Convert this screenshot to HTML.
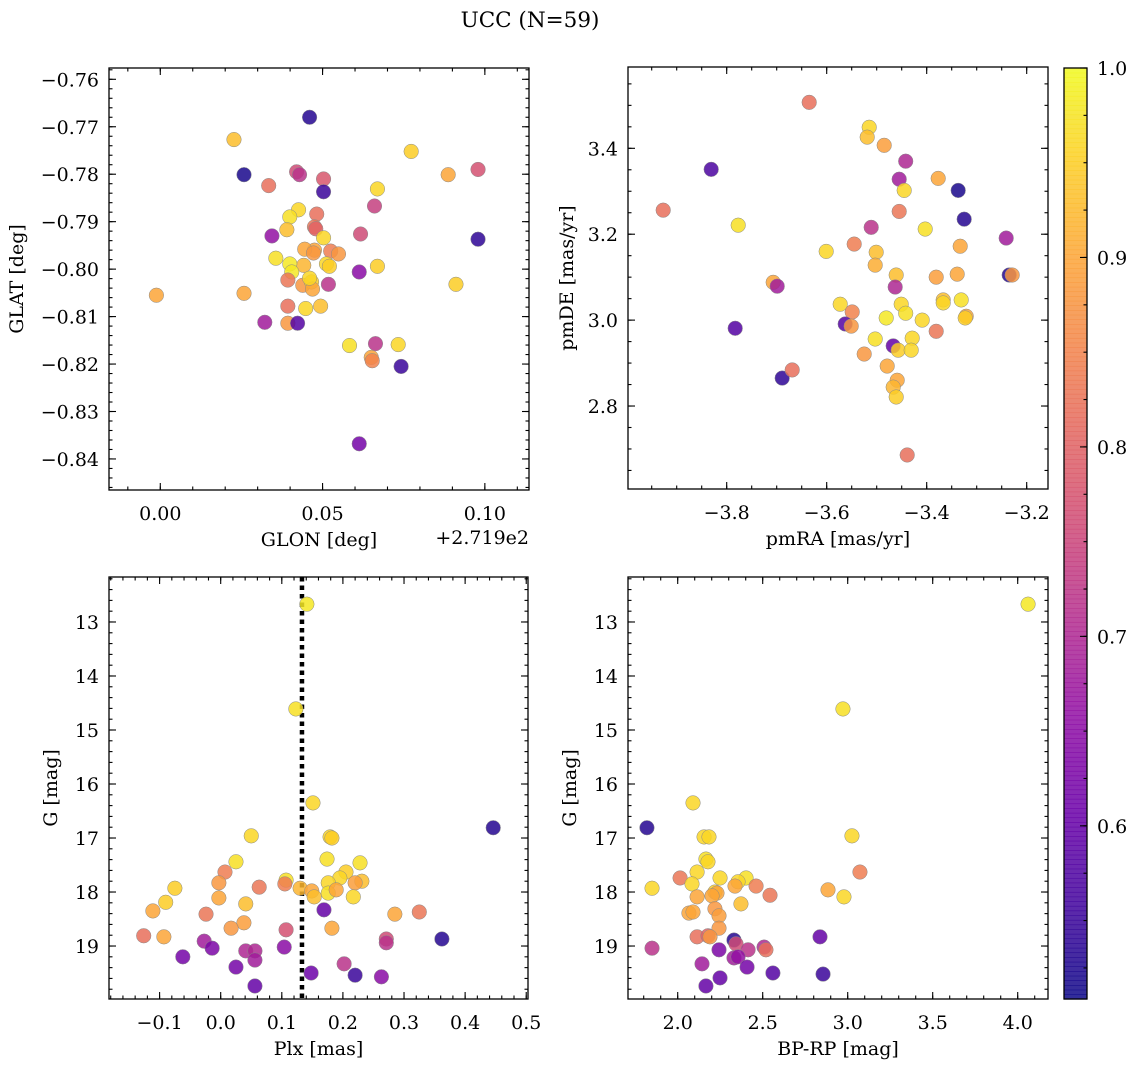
<!DOCTYPE html>
<html><head><meta charset="utf-8"><title>UCC (N=59)</title>
<style>
html,body{margin:0;padding:0;background:#fff;}
svg{display:block;}
text{font-family:"DejaVu Serif","Liberation Serif",serif;fill:#000;}
</style></head>
<body>
<svg id="fig" width="1136" height="1067" viewBox="0 0 1136 1067" xmlns="http://www.w3.org/2000/svg">
<rect x="0" y="0" width="1136" height="1067" fill="#fff"/>
<text x="530" y="27" font-size="21.5" text-anchor="middle">UCC (N=59)</text>
</svg>
<script>
// ---------- data ----------
const glonOffset = 271.9;
const glon = [0.0227,0.0258,0.0460,0.0334,0.0420,0.0429,0.0503,0.0503,0.0773,0.0887,0.0979,0.0669,0.0660,0.0344,0.0426,0.0399,0.0390,0.0482,0.0475,0.0479,0.0503,0.0617,0.0979,0.0356,0.0442,0.0399,0.0405,0.0475,0.0525,0.0549,0.0512,0.0521,0.0613,0.0669,-0.0012,0.0258,0.0393,0.0439,0.0466,0.0469,0.0518,0.0460,0.0393,0.0448,0.0494,0.0911,0.0322,0.0393,0.0423,0.0583,0.0663,0.0733,0.0650,0.0653,0.0742,0.0613,0.0445,0.0472];
const glat = [-0.7727,-0.7801,-0.7680,-0.7824,-0.7795,-0.7801,-0.7810,-0.7837,-0.7752,-0.7801,-0.7790,-0.7831,-0.7867,-0.7930,-0.7875,-0.7890,-0.7917,-0.7884,-0.7911,-0.7915,-0.7934,-0.7926,-0.7937,-0.7977,-0.7992,-0.7989,-0.8006,-0.7960,-0.7962,-0.7968,-0.7989,-0.7994,-0.8006,-0.7994,-0.8055,-0.8051,-0.8023,-0.8034,-0.8027,-0.8042,-0.8032,-0.8019,-0.8078,-0.8083,-0.8078,-0.8032,-0.8112,-0.8114,-0.8114,-0.8161,-0.8157,-0.8159,-0.8186,-0.8193,-0.8205,-0.8368,-0.7958,-0.7966];
const prob1 = [0.93,0.52,0.53,0.82,0.76,0.72,0.78,0.55,0.95,0.9,0.77,0.96,0.74,0.66,0.96,0.97,0.93,0.82,0.83,0.8,0.96,0.76,0.54,0.97,0.92,0.98,0.98,0.9,0.84,0.88,0.96,0.95,0.65,0.95,0.9,0.9,0.83,0.88,0.95,0.9,0.72,0.96,0.82,0.96,0.93,0.95,0.68,0.88,0.58,0.97,0.72,0.96,0.9,0.85,0.55,0.62,0.9,0.88];

const pmra = [-3.635,-3.515,-3.519,-3.485,-3.831,-3.442,-3.455,-3.377,-3.445,-3.337,-3.927,-3.777,-3.511,-3.455,-3.325,-3.403,-3.241,-3.545,-3.501,-3.333,-3.601,-3.503,-3.461,-3.339,-3.381,-3.235,-3.229,-3.707,-3.699,-3.463,-3.573,-3.451,-3.367,-3.367,-3.331,-3.442,-3.481,-3.321,-3.323,-3.549,-3.563,-3.551,-3.783,-3.409,-3.381,-3.503,-3.429,-3.525,-3.467,-3.457,-3.431,-3.479,-3.459,-3.467,-3.461,-3.689,-3.669,-3.439];
const pmde = [3.507,3.449,3.426,3.407,3.351,3.370,3.328,3.330,3.302,3.302,3.256,3.221,3.216,3.253,3.235,3.212,3.191,3.177,3.158,3.172,3.160,3.128,3.105,3.107,3.100,3.105,3.105,3.088,3.079,3.077,3.037,3.037,3.047,3.040,3.047,3.016,3.005,3.009,3.005,3.019,2.991,2.986,2.981,3.000,2.974,2.956,2.958,2.921,2.940,2.930,2.930,2.893,2.860,2.844,2.821,2.865,2.884,2.686];
const prob2 = [0.82,0.96,0.93,0.89,0.57,0.7,0.68,0.9,0.96,0.52,0.82,0.97,0.72,0.83,0.53,0.97,0.68,0.84,0.93,0.9,0.96,0.91,0.93,0.9,0.89,0.53,0.88,0.9,0.68,0.7,0.96,0.96,0.93,0.96,0.97,0.97,0.98,0.9,0.95,0.85,0.58,0.88,0.58,0.96,0.83,0.97,0.96,0.88,0.6,0.95,0.96,0.9,0.9,0.92,0.95,0.54,0.82,0.82];

const plx = [0.141,0.123,0.151,0.446,0.050,0.179,0.182,0.174,0.025,0.007,-0.075,0.228,0.205,0.195,0.231,0.107,0.176,0.220,0.105,0.063,-0.003,0.130,0.149,0.153,0.176,0.189,-0.090,-0.111,0.041,-0.003,-0.024,0.217,0.285,0.325,0.169,0.038,0.017,0.182,-0.126,-0.093,0.107,-0.027,0.271,0.271,0.362,-0.014,0.104,0.041,0.056,-0.062,0.056,0.202,0.025,0.220,0.263,0.148,0.056];
const gmag3 = [12.67,14.61,16.35,16.81,16.96,16.98,17.00,17.39,17.44,17.63,17.93,17.46,17.63,17.74,17.80,17.78,17.83,17.83,17.85,17.91,17.83,17.93,17.98,18.09,18.02,17.96,18.19,18.35,18.22,18.11,18.41,18.09,18.41,18.37,18.33,18.57,18.67,18.67,18.81,18.83,18.70,18.91,18.87,18.94,18.87,19.04,19.02,19.09,19.09,19.20,19.26,19.33,19.39,19.54,19.57,19.50,19.74];
const prob3 = [0.98,0.97,0.96,0.53,0.96,0.96,0.95,0.97,0.97,0.84,0.95,0.97,0.95,0.96,0.93,0.97,0.96,0.89,0.84,0.83,0.88,0.92,0.9,0.93,0.97,0.9,0.95,0.9,0.93,0.9,0.83,0.96,0.9,0.83,0.6,0.89,0.88,0.9,0.82,0.9,0.77,0.68,0.76,0.72,0.53,0.63,0.65,0.7,0.7,0.62,0.68,0.72,0.62,0.55,0.65,0.61,0.6];
const plxLine = 0.133;

const bprp = [4.061,2.972,2.090,1.819,3.025,2.155,2.184,2.166,2.178,3.072,2.014,2.114,2.249,2.402,2.355,1.849,2.084,2.219,2.337,2.461,2.231,2.884,2.978,2.114,2.202,2.543,2.219,2.372,2.066,2.090,2.243,2.243,2.114,2.178,2.190,2.331,2.343,2.331,2.508,2.414,1.849,2.837,2.519,2.243,2.143,2.355,2.408,2.249,2.166,2.560,2.855];
const gmag4 = [12.67,14.61,16.35,16.81,16.96,16.98,16.98,17.39,17.44,17.63,17.74,17.63,17.74,17.74,17.81,17.93,17.85,18.00,17.89,17.89,18.02,17.96,18.09,18.09,18.07,18.06,18.31,18.22,18.39,18.37,18.44,18.67,18.83,18.81,18.83,18.89,18.96,19.22,19.02,19.07,19.04,18.83,19.07,19.07,19.33,19.20,19.39,19.59,19.74,19.50,19.52];
const prob4 = [0.98,0.97,0.96,0.53,0.96,0.96,0.96,0.97,0.96,0.84,0.83,0.96,0.96,0.97,0.96,0.96,0.96,0.95,0.9,0.84,0.9,0.9,0.96,0.9,0.9,0.83,0.88,0.93,0.9,0.9,0.89,0.88,0.82,0.8,0.88,0.53,0.76,0.68,0.7,0.72,0.72,0.6,0.82,0.63,0.68,0.66,0.62,0.6,0.6,0.58,0.55];

const cbTicks = [0.6,0.7,0.8,0.9,1.0];
const cbMin = 0.5086, cbMax = 1.0;

// ---------- helpers ----------
const NS = "http://www.w3.org/2000/svg";
const svg = document.getElementById('fig');
const FS = 19;
function mk(tag, attrs, parent){
  const e = document.createElementNS(NS, tag);
  for (const k in attrs) e.setAttribute(k, attrs[k]);
  (parent||svg).appendChild(e);
  return e;
}
function lin(d0,d1,r0,r1){ return v => r0 + (v-d0)/(d1-d0)*(r1-r0); }
const plasma = [[13,8,135],[65,4,157],[106,0,168],[143,13,164],[177,42,144],[204,71,120],[225,100,98],[242,132,75],[252,166,54],[252,206,37],[240,249,33]];
function cmap(t){
  t = Math.max(0, Math.min(1, t));
  const f = t*10, i = Math.min(9, Math.floor(f)), r = f - i;
  const a = plasma[i], b = plasma[i+1];
  return 'rgb(' + [0,1,2].map(k => Math.round(a[k]+(b[k]-a[k])*r)).join(',') + ')';
}
function colorOf(p){ return cmap((p-cbMin)/(cbMax-cbMin)); }
function fmt(v, dec){ const s = Math.abs(v).toFixed(dec); return (v < -1e-9 ? '\u2212' : '') + s; }
function tickVals(d0, d1, step){
  const lo = Math.min(d0,d1), hi = Math.max(d0,d1), out = [];
  for (let v = Math.ceil(lo/step - 1e-6)*step; v <= hi + 1e-9; v += step) out.push(+v.toFixed(6));
  return out;
}

function panel(cfg){
  const g = mk('g', {});
  
  
  const {x0,x1,y0,y1} = cfg;
  const sx = lin(cfg.xd[0], cfg.xd[1], x0, x1);
  const sy = lin(cfg.yd[0], cfg.yd[1], y0, y1);
  if (cfg.vline !== undefined){
    const l = mk('line', {x1:sx(cfg.vline), x2:sx(cfg.vline), y1:y0, y2:y1, stroke:'#000', 'stroke-width':4.5, 'stroke-dasharray':'4.5,4'}, g);
    
    
  }
  const n = Math.min(cfg.xs.length, cfg.ys.length, cfg.cs.length);
  for (let i=0;i<n;i++){
    const c = mk('circle', {cx:sx(cfg.xs[i]), cy:sy(cfg.ys[i]), r:7.3, fill:colorOf(cfg.cs[i]), 'fill-opacity':0.85, stroke:'#8a8a8a', 'stroke-width':0.5}, g);
    
    
  }
  const tk = mk('g', {stroke:'#000', 'stroke-width':1.1}, g);
  tickVals(cfg.xd[0], cfg.xd[1], cfg.xminor).forEach(v => {
    const x = sx(v);
    mk('line', {x1:x,x2:x,y1:y1,y2:y1-3.5}, tk); mk('line', {x1:x,x2:x,y1:y0,y2:y0+3.5}, tk);
  });
  tickVals(cfg.yd[0], cfg.yd[1], cfg.yminor).forEach(v => {
    const y = sy(v);
    mk('line', {x1:x0,x2:x0+3.5,y1:y,y2:y}, tk); mk('line', {x1:x1,x2:x1-3.5,y1:y,y2:y}, tk);
  });
  tickVals(cfg.xd[0], cfg.xd[1], cfg.xmajor).forEach(v => {
    const x = sx(v);
    mk('line', {x1:x,x2:x,y1:y1,y2:y1-7}, tk); mk('line', {x1:x,x2:x,y1:y0,y2:y0+7}, tk);
    const t = mk('text', {x:x, y:y1+30, 'font-size':FS, 'text-anchor':'middle'}, g);
    t.textContent = fmt(v, cfg.xdec);
    
    
  });
  tickVals(cfg.yd[0], cfg.yd[1], cfg.ymajor).forEach(v => {
    const y = sy(v);
    mk('line', {x1:x0,x2:x0+7,y1:y,y2:y}, tk); mk('line', {x1:x1,x2:x1-7,y1:y,y2:y}, tk);
    const t = mk('text', {x:x0-10, y:y+7, 'font-size':FS, 'text-anchor':'end'}, g);
    t.textContent = fmt(v, cfg.ydec);
    
    
  });
  const fr = mk('rect', {x:x0, y:y0, width:x1-x0, height:y1-y0, fill:'none', stroke:'#000', 'stroke-width':1.3}, g);
  
  
  const xl = mk('text', {x:(x0+x1)/2, y:y1+56, 'font-size':FS, 'text-anchor':'middle'}, g);
  xl.textContent = cfg.xlabel;
  
  
  const yx = cfg.ylx, yy = (y0+y1)/2;
  const yl = mk('text', {x:yx, y:yy, 'font-size':FS, 'text-anchor':'middle', transform:'rotate(-90 '+yx+' '+yy+')'}, g);
  yl.textContent = cfg.ylabel;
  
  
  if (cfg.offset){
    const o = mk('text', {x:x1, y:y1+54, 'font-size':FS, 'text-anchor':'end'}, g);
    o.textContent = cfg.offset;
    
    
  }
}

panel({name:'glon-glat-panel', x0:109,x1:529,y0:68,y1:490, xd:[-0.0158,0.1136], yd:[-0.75762,-0.84654],
  xs:glon, ys:glat, cs:prob1, xmajor:0.05, xminor:0.01, ymajor:0.01, yminor:0.002, xdec:2, ydec:2,
  xlabel:'GLON [deg]', ylabel:'GLAT [deg]', ylx:23, offset:'+2.719e2'});
panel({name:'proper-motion-panel', x0:628,x1:1048,y0:67,y1:489, xd:[-3.9974,-3.1574], yd:[3.5893,2.6068],
  xs:pmra, ys:pmde, cs:prob2, xmajor:0.2, xminor:0.05, ymajor:0.2, yminor:0.05, xdec:1, ydec:1,
  xlabel:'pmRA [mas/yr]', ylabel:'pmDE [mas/yr]', ylx:573});
panel({name:'plx-g-panel', x0:109,x1:528,y0:577,y1:999, xd:[-0.1828,0.5029], yd:[12.167,19.981],
  xs:plx, ys:gmag3, cs:prob3, xmajor:0.1, xminor:0.02, ymajor:1, yminor:0.2, xdec:1, ydec:0,
  xlabel:'Plx [mas]', ylabel:'G [mag]', ylx:57, vline:plxLine});
panel({name:'cmd-panel', x0:628,x1:1048,y0:577,y1:999, xd:[1.7076,4.1782], yd:[12.167,19.981],
  xs:bprp, ys:gmag4, cs:prob4, xmajor:0.5, xminor:0.1, ymajor:1, yminor:0.2, xdec:1, ydec:0,
  xlabel:'BP-RP [mag]', ylabel:'G [mag]', ylx:576});

(function(){
  const g = mk('g', {});
  
  
  const cx0 = 1064, cx1 = 1087, cy0 = 68, cy1 = 999;
  const sy = lin(cbMin, cbMax, cy1, cy0);
  const N = 200;
  for (let i=0;i<N;i++){
    const ya = cy0 + (cy1-cy0)*i/N, yb = cy0 + (cy1-cy0)*(i+1)/N;
    const v = cbMax - (cbMax-cbMin)*(i+0.5)/N;
    mk('rect', {x:cx0, y:ya, width:cx1-cx0, height:yb-ya+0.6, fill:colorOf(v), 'fill-opacity':0.85}, g);
  }
  const tk = mk('g', {stroke:'#000', 'stroke-width':1.1}, g);
  tickVals(cbMin, cbMax, 0.025).forEach(v => { const y = sy(v); mk('line', {x1:cx1, x2:cx1-3.5, y1:y, y2:y}, tk); });
  cbTicks.forEach(v => {
    const y = sy(v);
    mk('line', {x1:cx1, x2:cx1-7, y1:y, y2:y}, tk);
    const t = mk('text', {x:cx1+10, y:y+7, 'font-size':FS}, g);
    t.textContent = v.toFixed(1);
    
    
  });
  mk('rect', {x:cx0, y:cy0, width:cx1-cx0, height:cy1-cy0, fill:'none', stroke:'#000', 'stroke-width':1.3}, g);
})();
</script>
</body></html>
